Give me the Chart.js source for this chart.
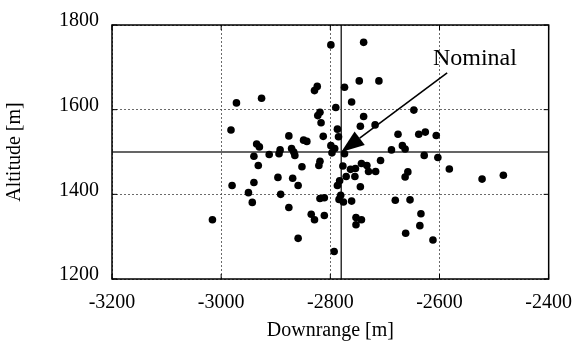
<!DOCTYPE html>
<html>
<head>
<meta charset="utf-8">
<script src="https://cdn.jsdelivr.net/npm/chart.js@4"></script>
<style>
  html, body { margin: 0; padding: 0; background: #fff; }
  #wrap { width: 584px; height: 347px; }
</style>
</head>
<body>
<div id="wrap"><canvas id="chart" width="584" height="347"></canvas></div>
<script>
// --- Data ---
const downrange = [
  -2799, -2739, -2829, -2824, -2774, -2747, -2711, -2972, -2926, -2761,
  -2790, -2819, -2823, -2647, -2817, -2739, -2745, -2718, -2982, -2787,
  -2785, -2876, -2849, -2843, -2813, -2676, -2638, -2626, -2606, -2935,
  -2930, -2688, -2668, -2663, -2892, -2894, -2912, -2871, -2867, -2865,
  -2799, -2792, -2797, -2774, -2940, -2628, -2603, -2932, -2852, -2819,
  -2821, -2777, -2763, -2754, -2743, -2733, -2730, -2717, -2708, -2896,
  -2869, -2771, -2755, -2658, -2663, -2582, -2522, -2483, -2980, -2940,
  -2859, -2783, -2787, -2745, -2950, -2891, -2943, -2819, -2811, -2781,
  -2784, -2776, -2761, -2681, -2654, -2876, -2835, -2829, -2811, -2753,
  -2743, -2753, -2634, -2636, -2662, -2612, -3016, -2859, -2793
];
const altitude = [
  1753, 1759, 1645, 1655, 1653, 1668, 1668, 1616, 1627, 1618,
  1605, 1594, 1586, 1599, 1569, 1584, 1561, 1564, 1552, 1554,
  1536, 1538, 1528, 1525, 1537, 1542, 1542, 1547, 1539, 1519,
  1512, 1505, 1515, 1507, 1505, 1496, 1494, 1508, 1500, 1492,
  1515, 1508, 1498, 1496, 1490, 1492, 1487, 1468, 1465, 1478,
  1468, 1467, 1459, 1461, 1473, 1468, 1454, 1454, 1480, 1440,
  1438, 1442, 1442, 1453, 1441, 1460, 1436, 1445, 1421, 1428,
  1421, 1432, 1421, 1418, 1404, 1400, 1381, 1390, 1392, 1398,
  1388, 1382, 1384, 1386, 1387, 1369, 1353, 1340, 1350, 1345,
  1340, 1328, 1354, 1326, 1308, 1292, 1340, 1296, 1265
];
const xTicks = [-3200, -3000, -2800, -2600, -2400];
const yTicks = [1200, 1400, 1600, 1800];
const nominal = { x: -2780, y: 1500 };

// annotation placement (data units)
const arrowTail = { x: -2586, y: 1687 };
const labelAt = { x: -2612, y: 1706 };

const serif = "'Liberation Serif', 'Times New Roman', serif";

// --- Frame, nominal cross-hair, arrow ---
const overlay = {
  id: 'overlay',
  beforeDatasetsDraw(chart) {
    const { ctx, chartArea: a, scales: { x, y } } = chart;
    ctx.save();
    // nominal lines
    const nx = x.getPixelForValue(nominal.x);
    const ny = y.getPixelForValue(nominal.y);
    ctx.strokeStyle = '#333';
    ctx.lineWidth = 1.5;
    ctx.beginPath();
    ctx.moveTo(nx, a.top); ctx.lineTo(nx, a.bottom);
    ctx.moveTo(a.left, ny); ctx.lineTo(a.right, ny);
    ctx.stroke();
    // inward tick marks
    ctx.strokeStyle = '#000';
    ctx.lineWidth = 1;
    ctx.beginPath();
    xTicks.forEach(v => {
      const px = x.getPixelForValue(v);
      ctx.moveTo(px, a.bottom); ctx.lineTo(px, a.bottom - 5);
      ctx.moveTo(px, a.top); ctx.lineTo(px, a.top + 5);
    });
    yTicks.forEach(v => {
      const py = y.getPixelForValue(v);
      ctx.moveTo(a.left, py); ctx.lineTo(a.left + 5, py);
      ctx.moveTo(a.right, py); ctx.lineTo(a.right - 5, py);
    });
    ctx.stroke();
    // frame
    ctx.lineWidth = 1.5;
    ctx.strokeRect(a.left, a.top, a.width, a.height);
    ctx.restore();
  },
  afterDatasetsDraw(chart) {
    const { ctx, scales: { x, y } } = chart;
    const tx = x.getPixelForValue(nominal.x), ty = y.getPixelForValue(nominal.y);
    const fx = x.getPixelForValue(arrowTail.x), fy = y.getPixelForValue(arrowTail.y);
    const ang = Math.atan2(ty - fy, tx - fx);
    const len = 23, half = 8.5;
    const bx = tx - len * Math.cos(ang), by = ty - len * Math.sin(ang);
    ctx.save();
    ctx.strokeStyle = '#000';
    ctx.fillStyle = '#000';
    ctx.lineWidth = 1.6;
    ctx.beginPath();
    ctx.moveTo(fx, fy); ctx.lineTo(bx, by);
    ctx.stroke();
    ctx.beginPath();
    ctx.moveTo(tx, ty);
    ctx.lineTo(bx + half * Math.sin(ang), by - half * Math.cos(ang));
    ctx.lineTo(bx - half * Math.sin(ang), by + half * Math.cos(ang));
    ctx.closePath();
    ctx.fill();
    // label
    ctx.font = '24px ' + serif;
    ctx.textAlign = 'left';
    ctx.textBaseline = 'alphabetic';
    ctx.fillText('Nominal', x.getPixelForValue(labelAt.x), y.getPixelForValue(labelAt.y));
    ctx.restore();
  }
};

const points = downrange.map((d, i) => ({ x: d, y: altitude[i] }));

new Chart(document.getElementById('chart'), {
  type: 'scatter',
  data: {
    datasets: [{
      data: points,
      backgroundColor: '#000',
      borderWidth: 0,
      pointRadius: 3.8
    }]
  },
  options: {
    responsive: false,
    animation: false,
    layout: { padding: { left: 0, right: 26, top: 19, bottom: 0 } },
    plugins: { legend: { display: false }, tooltip: { enabled: false } },
    scales: {
      x: {
        type: 'linear',
        min: xTicks[0],
        max: xTicks[xTicks.length - 1],
        afterBuildTicks: s => { s.ticks = xTicks.map(v => ({ value: v })); },
        afterFit: s => { s.height = 68; },
        grid: { color: '#444', lineWidth: 0.8, drawTicks: false },
        border: { display: false, dash: [2, 2] },
        ticks: {
          color: '#000',
          padding: 12,
          maxRotation: 0,
          font: { family: serif, size: 20 },
          callback: v => String(v)
        },
        title: {
          display: true,
          text: 'Downrange [m]',
          color: '#000',
          font: { family: serif, size: 20 },
          padding: { top: 0, bottom: 4 }
        }
      },
      y: {
        type: 'linear',
        min: yTicks[0],
        max: yTicks[yTicks.length - 1],
        afterBuildTicks: s => { s.ticks = yTicks.map(v => ({ value: v })); },
        afterFit: s => { s.width = 112; },
        grid: { color: '#444', lineWidth: 0.8, drawTicks: false },
        border: { display: false, dash: [2, 2] },
        ticks: {
          color: '#000',
          padding: 13,
          labelOffset: -4,
          font: { family: serif, size: 20 },
          callback: v => String(v)
        },
        title: {
          display: true,
          text: 'Altitude [m]',
          color: '#000',
          font: { family: serif, size: 20 },
          padding: { top: 3, bottom: 0 }
        }
      }
    }
  },
  plugins: [overlay]
});
</script>
</body>
</html>
